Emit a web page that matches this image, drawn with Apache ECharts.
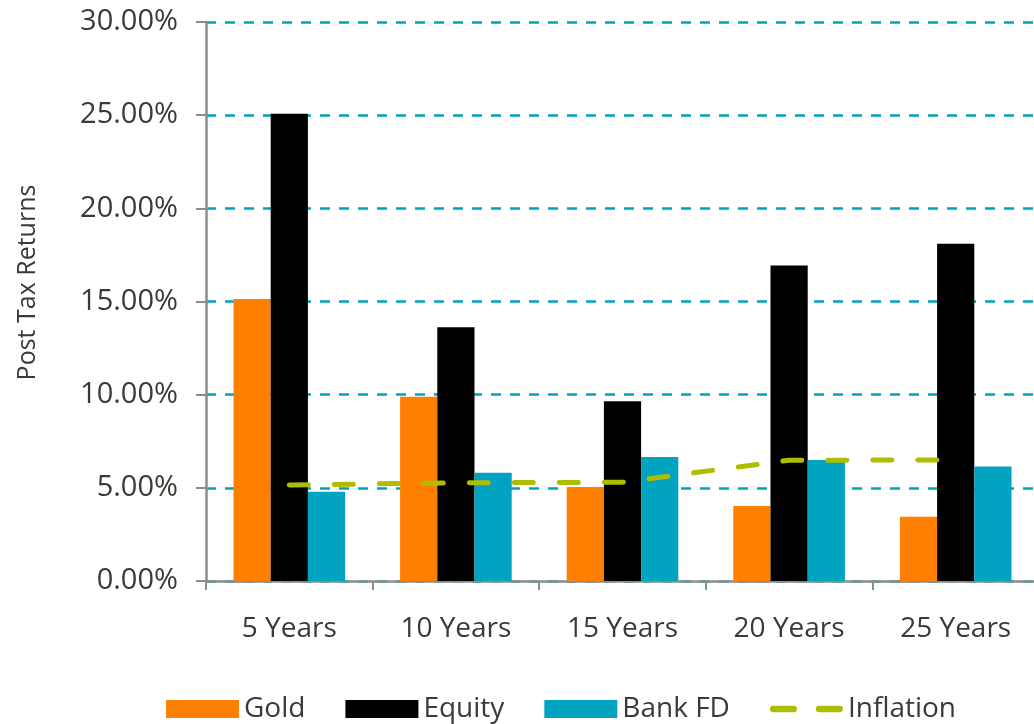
<!DOCTYPE html>
<html>
<head>
<meta charset="utf-8">
<style>
  html, body { margin:0; padding:0; background:#fff; }
  #chart { width:1034px; height:724px; }
</style>
<script src="https://cdn.jsdelivr.net/npm/echarts@6/dist/echarts.min.js"></script>
</head>
<body>
<div id="chart"></div>
<script>
const periods = ['5 Years', '10 Years', '15 Years', '20 Years', '25 Years'];
const gold = [15.14, 9.89, 5.05, 4.03, 3.45];
const equity = [25.07, 13.62, 9.65, 16.93, 18.1];
const bankFD = [4.79, 5.81, 6.66, 6.5, 6.15];
const inflation = [5.15, 5.27, 5.3, 6.48, 6.5];

const txt = '#3d3935';
const font = '"Open Sans", "Noto Sans", sans-serif';
// two rounded dashes for the inflation legend key
const dashIcon = 'path://M3,0 H23 A3,3 0 0 1 23,6 H3 A3,3 0 0 1 3,0 Z M47,0 H67 A3,3 0 0 1 67,6 H47 A3,3 0 0 1 47,0 Z';

const chart = echarts.init(document.getElementById('chart'));
chart.setOption({
  animation: false,
  textStyle: {fontFamily: font},
  grid: {left:206, top:22, width:833, bottom:143, containLabel:false, outerBoundsMode:'none'},
  legend: {
    left: 161, top: 690,
    itemWidth: 73, itemHeight: 18, itemGap: 40,
    textStyle: {fontSize:28, color:txt, fontFamily:font},
    data: [
      {name:'Gold', icon:'rect'},
      {name:'Equity', icon:'rect'},
      {name:'Bank FD', icon:'rect'},
      {name:'Inflation', icon:dashIcon}
    ]
  },
  xAxis: {
    type: 'category',
    data: periods,
    axisLine: {lineStyle:{color:'#8c8c8c', width:2.5}},
    axisTick: {show:true, length:9, lineStyle:{color:'#8c8c8c', width:2}},
    axisLabel: {fontSize:28, color:txt, margin:34, fontFamily:font}
  },
  yAxis: {
    type: 'value',
    min: 0, max: 30, interval: 5,
    name: 'Post Tax Returns',
    nameLocation: 'middle',
    nameGap: 166,
    nameTextStyle: {fontSize:25, color:txt, fontFamily:font, padding:[0,0,0,38]},
    axisLine: {show:true, lineStyle:{color:'#8c8c8c', width:2.5}},
    axisTick: {show:true, length:10, lineStyle:{color:'#8c8c8c', width:2}},
    axisLabel: {fontSize:29, color:txt, margin:28, fontFamily:font,
      formatter: v => v.toFixed(2) + '%'},
    splitLine: {lineStyle:{color:'#00a2c0', width:2.5, type:[10,9]}}
  },
  series: [
    {name:'Gold', type:'bar', data:gold, itemStyle:{color:'#ff7f00'},
      barGap:'0%', barCategoryGap:'33%'},
    {name:'Equity', type:'bar', data:equity, itemStyle:{color:'#000000'}},
    {name:'Bank FD', type:'bar', data:bankFD, itemStyle:{color:'#00a3c0'}},
    {name:'Inflation', type:'line', data:inflation, symbol:'none', z:5,
      itemStyle:{color:'#afbd00'},
      lineStyle:{color:'#afbd00', width:5, type:[19,26], cap:'round'}}
  ]
});
</script>
</body>
</html>
